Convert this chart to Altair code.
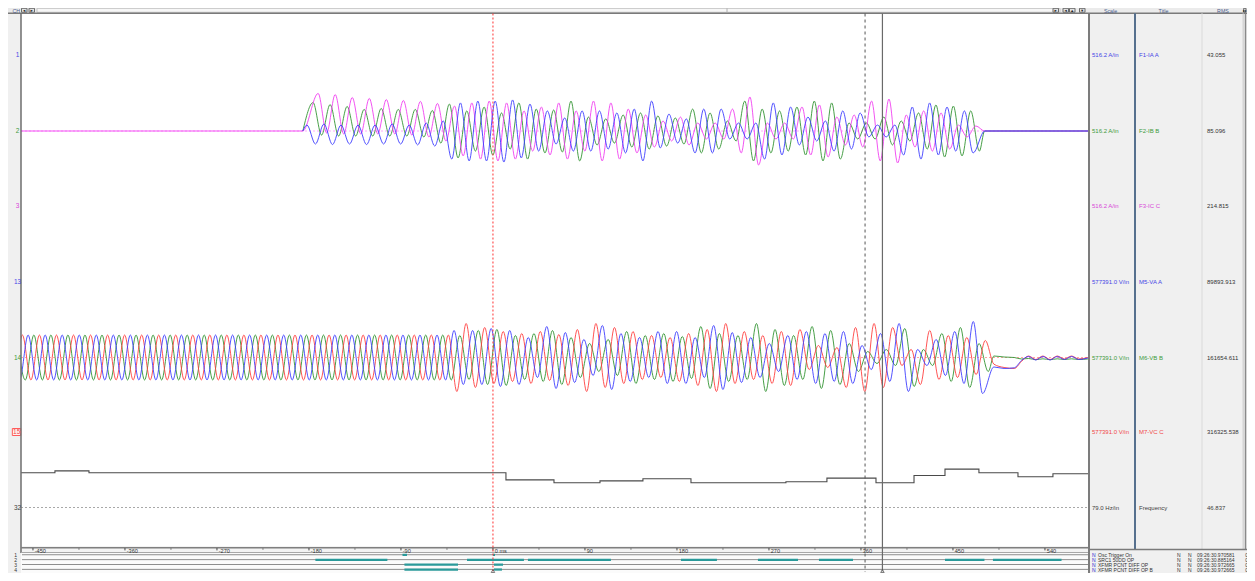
import altair as alt
import pandas as pd

# =================== values ===================
T_MIN, T_MAX = -461.7, 582.1          # ms visible across the record

CH_ID = ["1", "2", "3", "13", "14", "15", "32"]
CH_SCALE = ["516.2 A/in", "516.2 A/in", "516.2 A/in",
            "577391.0 V/in", "577391.0 V/in", "577391.0 V/in", "79.0 Hz/in"]
CH_TITLE = ["F1-IA A", "F2-IB B", "F3-IC C", "M5-VA A", "M6-VB B", "M7-VC C", "Frequency"]
CH_RMS = ["43.055", "85.096", "214.815", "89893.913", "161654.611", "316325.538", "46.837"]

AMP_PER_IN = 516.2
VOLT_PER_IN = 577391.0
HZ_PER_IN = 79.0

# ---- currents (A): peaks / troughs per cycle ----
I_ON, I_SEG2, I_OFF = -186.0, -45.0, 478.0
I_PER1, I_PER2 = 16.67, 17.0
IA_FIRST, IB_FIRST, IC_FIRST = -182.0, -176.0, -171.0
IA_PK1 = [32, 38, 32, 32, 32, 38, 32, 43, 54]
IA_TR1 = [-70, -73, -70, -73, -70, -70, -75, -81, -108]
IB_PK1 = [153, 142, 132, 116, 121, 116, 116, 110, 97]
IB_TR1 = [-22, -22, -27, -27, -27, -27, -27, -32, -65]
IC_PK1 = [202, 196, 180, 175, 169, 164, 159, 148, 140]
IC_TR1 = [-11, -11, -16, -16, -16, -16, -22, -32, -54]
IA_AMP2 = [151, 161, 161, 167, 145, 108, 70, 108, 108, 97, 118, 161, 91, 65, 118, 118,
           43, 43, 151, 129, 75, 54, 108, 97, 32, 32, 129, 151, 129, 108, 118]
IB_AMP2 = [145, 108, 129, 97, 151, 118, 113, 161, 75, 65, 86, 97, 81, 70, 118, 97,
           54, 161, 118, 108, 129, 161, 151, 43, 43, 75, 54, 97, 140, 134, 108]
IC_AMP2 = [134, 151, 161, 151, 108, 129, 151, 108, 161, 151, 118, 86, 54, 75, 43, 43,
           118, 183, 43, 43, 129, 140, 75, 86, 161, 172, 86, 108, 97, 32, 27]

# ---- voltages (V) ----
V_PER0, V_PER1 = 16.667, 18.14
V_EV, V_OFF = -40.0, 487.0
V_PRE = 135300
VA_FIRST, VB_FIRST, VC_FIRST = -471.4, -465.8, -477.0
VA_AMP = [162400, 162400, 174400, 162400, 120300, 186400, 150400, 108300, 192400, 144300,
          120300, 156400, 156400, 120300, 192400, 150400, 120300, 84200, 132300, 156400,
          144300, 156400, 72200, 144300, 204500, 48100, 108300, 156400, 216500]
VB_AMP = [132300, 162400, 168400, 132300, 144300, 162400, 120300, 84200, 108300, 156400,
          132300, 144300, 126300, 186400, 144300, 132300, 204500, 168400, 132300, 186400,
          162400, 84200, 36100, 48100, 174400, 48100, 144300, 180400, 84200]
VC_AMP = [204500, 180400, 156400, 144300, 156400, 138300, 168400, 204500, 180400, 156400,
          132300, 120300, 144300, 168400, 204500, 156400, 132300, 156400, 168400, 72200,
          60100, 180400, 204500, 180400, 48100, 162400, 132300, 120300, 102200]
V_POST_T = [490, 500, 510, 517, 524, 531, 538, 545, 552, 559, 566, 573, 582]
VA_POST = [-57000, -66000, -62000, -18000, 6000, -15000, 6000, -15000, 6000, -12000, 6000, -12000, -3000]
VB_POST = [9000, 3000, 0, -9000, -6000, -13000, -8000, -13000, -8000, -12000, -8000, -12000, -9000]
VC_POST = [-40000, -60000, -66000, -24000, 9000, -12000, 9000, -12000, 9000, -9000, 9000, -9000, 0]

# ---- frequency (Hz), step trace ----
FREQ_T = [-461.7, -428.5, -395.2, 12.7, 59.7, 104.7, 146.7, 193.7, 286.6, 326.7, 374.7,
          411.9, 442.2, 475.4, 513.6, 547.8, 582.1]
FREQ_HZ = [60.0, 61.6, 60.0, 54.2, 51.8, 53.4, 55.1, 51.8, 52.6, 55.6, 51.8, 57.8, 63.0,
           60.0, 56.7, 59.2, 59.2]

# ---- cursors ----
TRIGGER_T, CURSOR_A, CURSOR_B = 0.0, 364.0, 381.0

# ---- time ruler ----
TICK_MS = [-450, -360, -270, -180, -90, 0, 90, 180, 270, 360, 450, 540]
TICK_LBL = ["-450", "-360", "-270", "-180", "-90", "0 ms", "90", "180", "270", "360", "450", "540"]
MINOR_MS = [-405, -315, -225, -135, -45, 45, 135, 225, 315, 405, 495]

# ---- digital channels ----
DIG_NAMES = ["Osc Trigger On", "SRC1 50DD OP", "XFMR PCNT DIFF OP", "XFMR PCNT DIFF OP B"]
DIG_TIMES = ["09:26:30.970581", "09:26:30.885164", "09:26:30.972665", "09:26:30.972665"]
DIG_ROW = [0, 0, 1, 1, 1, 1, 1, 1, 1, 1, 2, 2, 3, 3]
DIG_T0 = [-88.5, 0.0, -173.7, -25.4, 34.2, 183.9, 259.2, 318.9, 442.2, 489.1, -86.6, 1.0, -86.6, 1.0]
DIG_T1 = [-84.1, 2.0, -103.3, 30.3, 115.4, 219.1, 298.4, 352.2, 480.8, 556.2, -34.2, 9.8, -34.2, 8.8]

# =================== layout (reference pixels) ===================
REF_W, REF_H = 1255, 581
W, H = 1239, 565
PLOT_L, PLOT_R, PLOT_T, PLOT_B = 21, 1088, 16, 548
ROW_Y = [57, 133.5, 208.5, 284, 360, 434.5, 510]
DIG_Y = [558.3, 563.3, 568.3, 573.3]
PPI = 96.0
F_ZERO = 31.45
FONT = "Liberation Sans"
MARGIN = 8

# piecewise mapping of reference pixels onto the page (plot region kept 1:1 in size)
XP_DOM = [0, 21, 1088, 1243, 1255]
XP_PAGE = [8, 21, 1088, 1243, 1247]
YP_DOM = [0, 7, 16, 548, 556, 577, 581]
YP_PAGE = [8, 8, 13.5, 545.5, 552.5, 573, 573]

BLUE, GREEN, MAGENTA, RED = "#3a3aff", "#2f922f", "#f03cf0", "#ff3c3c"
CH_TXT = ["#4646e6", "#3c9a3c", "#d846d8", "#4646e6", "#3c9a3c", "#f04848", "#404040"]
HDR = "#4a5c8c"
TEAL = "#2a9a9a"

XP = alt.Scale(domain=XP_DOM, range=[p - MARGIN for p in XP_PAGE], nice=False, zero=False)
YP = alt.Scale(domain=YP_DOM, range=[p - MARGIN for p in YP_PAGE], nice=False, zero=False)
TX = alt.Scale(domain=[T_MIN, T_MAX], range=[PLOT_L - MARGIN, PLOT_R - MARGIN], nice=False, zero=False)
TY = alt.Scale(domain=[0, (PLOT_B - PLOT_T) / PPI],
               range=[YP_PAGE[3] - MARGIN, YP_PAGE[2] - MARGIN], nice=False, zero=False)


def base_in(y):
    return (PLOT_B - y) / PPI


def neg(v):
    return [-a for a in v]


def wave(first_t, segs, t_end):
    pts, t, s = [], first_t, 1
    while t < t_end:
        start, per, pk, tr = segs[0]
        for g in segs:
            if g[0] <= t:
                start, per, pk, tr = g
        k = min(max(int((t - start) // per), 0), len(pk) - 1)
        pts.append((t, pk[k] if s > 0 else tr[k]))
        t += per / 2.0
        s = -s
    return pts


# ---------- build trace table ----------
rows = []


def add_trace(name, pts, per_in, zero_y, color):
    b = base_in(zero_y)
    for j, (t, v) in enumerate(pts):
        rows.append(dict(t=t, yin=b + v / per_in, trace=name, c=color, i=j))


ia = wave(IA_FIRST, [(I_ON, I_PER1, IA_PK1, IA_TR1), (I_SEG2, I_PER2, IA_AMP2, neg(IA_AMP2))], I_OFF)
ib = wave(IB_FIRST, [(I_ON, I_PER1, IB_PK1, IB_TR1), (I_SEG2, I_PER2, IB_AMP2, neg(IB_AMP2))], I_OFF)
ic = wave(IC_FIRST, [(I_ON, I_PER1, IC_PK1, IC_TR1), (I_SEG2, I_PER2, IC_AMP2, neg(IC_AMP2))], I_OFF)
tail = [(I_OFF + 3, 0), (T_MAX, 0)]
add_trace("IB", [(I_ON, 0)] + ib + tail, AMP_PER_IN, ROW_Y[1], GREEN)
add_trace("IC", [(T_MIN, 0), (I_ON, 0)] + ic + tail, AMP_PER_IN, ROW_Y[1], MAGENTA)
add_trace("IA", [(I_ON, 0)] + ia + tail, AMP_PER_IN, ROW_Y[1], BLUE)

pre = [V_PRE]
va = wave(VA_FIRST, [(-480.0, V_PER0, pre, neg(pre)), (V_EV, V_PER1, VA_AMP, neg(VA_AMP))], V_OFF)
vb = wave(VB_FIRST, [(-480.0, V_PER0, pre, neg(pre)), (V_EV, V_PER1, VB_AMP, neg(VB_AMP))], V_OFF)
vc = wave(VC_FIRST, [(-480.0, V_PER0, pre, neg(pre)), (V_EV, V_PER1, VC_AMP, neg(VC_AMP))], V_OFF)
add_trace("VB", vb + list(zip(V_POST_T, VB_POST)), VOLT_PER_IN, ROW_Y[4], GREEN)
add_trace("VC", vc + list(zip(V_POST_T, VC_POST)), VOLT_PER_IN, ROW_Y[4], RED)
add_trace("VA", va + list(zip(V_POST_T, VA_POST)), VOLT_PER_IN, ROW_Y[4], BLUE)

traces = pd.DataFrame(rows)
freq = pd.DataFrame({"t": FREQ_T,
                     "yin": [base_in(ROW_Y[6]) + (f - F_ZERO) / HZ_PER_IN for f in FREQ_HZ]})


# ---------- helpers ----------
def rect_layer(r):
    df = pd.DataFrame(r, columns=["x", "y", "x2", "y2", "fill", "stroke"])
    return alt.Chart(df).mark_rect(strokeWidth=1).encode(
        x=alt.X("x:Q", scale=XP, axis=None), x2="x2:Q",
        y=alt.Y("y:Q", scale=YP, axis=None), y2="y2:Q",
        fill=alt.Fill("fill:N", scale=None), stroke=alt.Stroke("stroke:N", scale=None))


def rule_layer(r):
    df = pd.DataFrame(r, columns=["x", "y", "x2", "y2", "c", "w"])
    return alt.Chart(df).mark_rule().encode(
        x=alt.X("x:Q", scale=XP, axis=None), x2="x2:Q",
        y=alt.Y("y:Q", scale=YP, axis=None), y2="y2:Q",
        color=alt.Color("c:N", scale=None), strokeWidth=alt.StrokeWidth("w:Q", scale=None))


def text_layer(r, align="left", font=FONT):
    df = pd.DataFrame(r, columns=["x", "y", "s", "c", "fs"])
    return alt.Chart(df).mark_text(align=align, baseline="middle", font=font).encode(
        x=alt.X("x:Q", scale=XP, axis=None), y=alt.Y("y:Q", scale=YP, axis=None),
        text="s:N", color=alt.Color("c:N", scale=None), size=alt.Size("fs:Q", scale=None))


layers = []

# backgrounds under traces
layers.append(rect_layer([
    (PLOT_L, PLOT_T, PLOT_R, 548.5, "#ffffff", "transparent"),
    (PLOT_L, 548.5, PLOT_R, 556, "#f3f3f3", "transparent"),
    (PLOT_L, 556, PLOT_R, 577, "#fbfbfb", "transparent"),
]))

# channel zero lines
bl = pd.DataFrame({"x": [PLOT_L] * 3, "x2": [PLOT_R] * 3,
                   "y": [base_in(ROW_Y[1]), base_in(ROW_Y[4]), base_in(ROW_Y[6])],
                   "c": ["#ffa8ff", "#ffa4a4", "#a8a8a8"]})
layers.append(alt.Chart(bl).mark_rule(strokeDash=[2, 2], strokeWidth=1).encode(
    x=alt.X("x:Q", scale=XP, axis=None), x2="x2:Q",
    y=alt.Y("y:Q", scale=TY, axis=None), color=alt.Color("c:N", scale=None)))

# waveforms
layers.append(alt.Chart(traces).mark_line(interpolate="monotone", strokeWidth=1, opacity=0.88).encode(
    x=alt.X("t:Q", scale=TX, axis=None), y=alt.Y("yin:Q", scale=TY, axis=None),
    detail="trace:N", color=alt.Color("c:N", scale=None), order="i:Q"))
layers.append(alt.Chart(freq).mark_line(interpolate="step-after", strokeWidth=1.1, color="#4a4a4a").encode(
    x=alt.X("t:Q", scale=TX, axis=None), y=alt.Y("yin:Q", scale=TY, axis=None)))

# frame panels drawn over trace ends
btn = "#e2e2e2"
btn_s = "#6a6a6a"
layers.append(rect_layer([
    (0, 15, PLOT_L, 577, "#f0f0f0", "transparent"),
    (1088.5, 15, REF_W, REF_H, "#f0f0f0", "transparent"),
    (0, 0, REF_W, 6.5, "#fbfbfb", "transparent"),
    (0, 6.5, REF_W, 15, "#ebebeb", "transparent"),
    (37, 7.5, 1060, 14, "#f7f7f7", "#c4c4c4"),
    (21.5, 7.5, 27, 14, btn, btn_s),
    (29, 7.5, 34.5, 14, btn, btn_s),
    (1053, 7.5, 1058.5, 14, btn, btn_s),
    (1063, 7.5, 1068.5, 14, btn, btn_s),
    (1069.5, 7.5, 1075, 14, btn, btn_s),
    (1079.5, 7.5, 1085, 14, btn, btn_s),
    (1245, 7.5, 1252, 14, btn, btn_s),
    (7, 431, 20.5, 438, "#fff0f0", "#ff5a5a"),
]))

frame = [
    (0, 15.5, REF_W, 15.5, "#7a7a7a", 1.5),
    (PLOT_L, 15.5, PLOT_L, 556.5, "#6e6e6e", 1.5),
    (1089, 15.5, 1089, REF_H, "#7c7c7c", 2),
    (1135, 15.5, 1135, 552, "#56708e", 2),
    (1202, 15.5, 1202, 552, "#dadada", 1),
    (1243.5, 15.5, 1243.5, 552, "#c8c8c8", 1),
    (1250.5, 15.5, 1250.5, 552, "#8a8a8a", 1.5),
    (PLOT_L, 550.5, PLOT_R, 550.5, "#7f7f7f", 1.5),
    (PLOT_L, 556, PLOT_R, 556, "#a8a8a8", 1),
    (1089, 552.5, REF_W, 552.5, "#7a7a7a", 1.5),
    (727, 7.5, 727, 14, "#b0b0b0", 1),
]
for y in DIG_Y:
    frame.append((22, y, PLOT_R, y, "#8e8e8e", 1))
layers.append(rule_layer(frame))

# digital channel state bars
dig = pd.DataFrame({"t0": DIG_T0, "t1": DIG_T1,
                    "y": [DIG_Y[r] - 1.0 for r in DIG_ROW], "y2": [DIG_Y[r] + 1.3 for r in DIG_ROW]})
layers.append(alt.Chart(dig).mark_rect(color=TEAL).encode(
    x=alt.X("t0:Q", scale=TX, axis=None), x2="t1:Q",
    y=alt.Y("y:Q", scale=YP, axis=None), y2="y2:Q"))

# time ruler
maj = pd.DataFrame({"t": TICK_MS, "lbl": TICK_LBL, "y": 550.9, "y2": 553.6, "ly": 554.0})
mnr = pd.DataFrame({"t": MINOR_MS, "y": 551.3, "y2": 552.7})
layers.append(alt.Chart(maj).mark_rule(color="#444444", strokeWidth=1).encode(
    x=alt.X("t:Q", scale=TX, axis=None), y=alt.Y("y:Q", scale=YP, axis=None), y2="y2:Q"))
layers.append(alt.Chart(mnr).mark_rule(color="#555555", strokeWidth=1).encode(
    x=alt.X("t:Q", scale=TX, axis=None), y=alt.Y("y:Q", scale=YP, axis=None), y2="y2:Q"))
layers.append(alt.Chart(maj).mark_text(align="left", baseline="middle", dx=1.8, fontSize=5.6,
                                       font=FONT, color="#333333").encode(
    x=alt.X("t:Q", scale=TX, axis=None), y=alt.Y("ly:Q", scale=YP, axis=None), text="lbl:N"))


# cursors
def cursor(t, color, width, dash=None):
    df = pd.DataFrame({"t": [t], "y": [PLOT_T], "y2": [576.0]})
    mk = alt.Chart(df).mark_rule(color=color, strokeWidth=width, strokeDash=dash) if dash else \
        alt.Chart(df).mark_rule(color=color, strokeWidth=width)
    return mk.encode(x=alt.X("t:Q", scale=TX, axis=None), y=alt.Y("y:Q", scale=YP, axis=None), y2="y2:Q")


layers.append(cursor(CURSOR_A, "#555555", 1, [3, 3]))
layers.append(cursor(CURSOR_B, "#6a6a6a", 1.2))
layers.append(cursor(TRIGGER_T, "#ff3030", 1, [2, 2]))
tri = pd.DataFrame({"t": [TRIGGER_T, CURSOR_B], "y": [575.0, 575.0]})
layers.append(alt.Chart(tri).mark_point(shape="triangle-up", size=12, filled=True, fill="#ffffff",
                                        stroke="#333333", strokeWidth=0.9).encode(
    x=alt.X("t:Q", scale=TX, axis=None), y=alt.Y("y:Q", scale=YP, axis=None)))

# texts
left_txt = []
for i in range(len(CH_ID)):
    left_txt.append((1092, ROW_Y[i], CH_SCALE[i], CH_TXT[i], 6))
    left_txt.append((1139, ROW_Y[i], CH_TITLE[i], CH_TXT[i], 6))
    left_txt.append((1207, ROW_Y[i], CH_RMS[i], "#333333" if i != 6 else "#404040", 6))
for j in range(len(DIG_NAMES)):
    y = DIG_Y[j] + 0.6
    left_txt.append((1092, y, "N", "#2a2ad0", 5))
    left_txt.append((1098, y, DIG_NAMES[j], "#333333", 5))
    left_txt.append((1177, y, "N", "#333333", 5))
    left_txt.append((1188, y, "N", "#333333", 5))
    left_txt.append((1197, y, DIG_TIMES[j], "#333333", 5))
    left_txt.append((1250, y, "0", "#333333", 5))
layers.append(text_layer(left_txt, "left"))

ctr_txt = [(13.5, 11.9, "CH", HDR, 5.3),
           (1110.5, 11.9, "Scale", HDR, 5.3),
           (1163.5, 11.9, "Title", HDR, 5.3),
           (1223, 11.9, "RMS", HDR, 5.3)]
for i in range(len(CH_ID)):
    ctr_txt.append((15.5 if i != 5 else 14, ROW_Y[i], CH_ID[i], CH_TXT[i], 6.5))
for j in range(len(DIG_NAMES)):
    ctr_txt.append((12.5, DIG_Y[j] + 0.5, str(j + 1), "#333333", 5))
layers.append(text_layer(ctr_txt, "center"))

glyph = [(24.25, 11.6, "\u25c2", "#222222", 4.6), (31.75, 11.6, "\u25b8", "#222222", 4.6),
         (1055.75, 11.6, "\u25b8", "#222222", 4.6), (1065.75, 11.6, "\u25c2", "#222222", 4.6),
         (1072.25, 11.6, "\u25b4", "#222222", 4.6), (1082.25, 11.6, "\u25be", "#222222", 4.6),
         (1248.5, 11.6, "\u25b8\u25b8", "#222222", 3.8)]
layers.append(text_layer(glyph, "center", "DejaVu Sans"))

chart = alt.layer(*layers).resolve_scale(x="independent", y="independent").properties(
    width=W, height=H, padding=0, background="#f0f0f0",
    autosize=alt.AutoSizeParams(type="none"),
).configure_view(stroke=None)

chart.save("out.html", embed_options={"renderer": "svg", "actions": False})
